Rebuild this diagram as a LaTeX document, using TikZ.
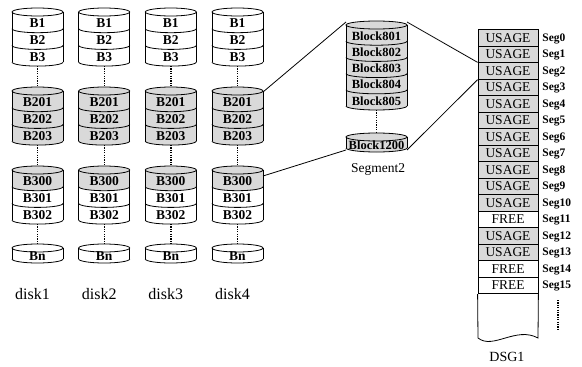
\documentclass[tikz,border=0pt]{standalone}
\usepackage{fontspec}
\setmainfont{Liberation Serif}
\tikzset{
  shade/.style={fill=gray!30},
  plain/.style={fill=white},
  cyltext/.style={font=\fontsize{13.5}{15}\selectfont\bfseries, inner sep=0pt},
  segtext/.style={font=\fontsize{12.5}{14}\selectfont\bfseries, inner sep=0pt},
  dots/.style={line width=1.4pt, dash pattern=on 1.2pt off 1.2pt},
  caption/.style={font=\fontsize{16}{18}\selectfont, inner sep=0pt},
  rowbox/.style={draw, minimum width=60pt, minimum height=16.5pt, inner sep=0pt, font=\fontsize{13.5}{14}\selectfont},
  seglab/.style={anchor=west, inner sep=0pt, font=\fontsize{11.5}{13}\selectfont\bfseries},
  link/.style={line width=0.8pt}
}
% #1 cx, #2 y0, #3 rx, #4 h, #5 name, #6 rows, #7 text style, #8 number of rows
\newcommand\cylstack[8]{%
  \foreach [count=\i from 0] \lab/\col in {#6} {
    \pgfmathsetmacro\ya{#2+\i*#4}
    \pgfmathsetmacro\yb{#2+(\i+1)*#4}
    \ifnum\i=0
      \fill[\col] (#1,#2) ellipse[x radius=#3pt, y radius=4pt];
    \fi
    \fill[\col] (#1-#3,\ya) -- (#1-#3,\yb) arc[start angle=180,end angle=360,x radius=#3pt,y radius=4pt]
       -- (#1+#3,\ya) arc[start angle=360,end angle=180,x radius=#3pt,y radius=4pt] -- cycle;
    \node[#7] (#5-\i) at (#1,\ya+#4/2+3) {\lab};
  }
  \draw (#1,#2) ellipse[x radius=#3pt, y radius=4pt];
  \draw (#1-#3,#2) -- (#1-#3,#2+#8*#4);
  \draw (#1+#3,#2) -- (#1+#3,#2+#8*#4);
  \foreach \k in {1,...,#8} {
    \draw (#1-#3,#2+\k*#4) arc[start angle=180,end angle=360,x radius=#3pt,y radius=4pt];
  }
}
\begin{document}
\begin{tikzpicture}[x=1pt,y=-1pt,line width=0.8pt]
\useasboundingbox (0,0) rectangle (582,367);
% disks
\foreach \cx [count=\d] in {37.5,104.2,170.8,237.5} {
  \cylstack{\cx}{12}{25.5}{16.7}{a\d}{B1/plain,B2/plain,B3/plain}{cyltext}{3}
  \cylstack{\cx}{91}{25.5}{16.7}{b\d}{B201/shade,B202/shade,B203/shade}{cyltext}{3}
  \cylstack{\cx}{170}{25.5}{16.7}{c\d}{B300/shade,B301/plain,B302/plain}{cyltext}{3}
  \cylstack{\cx}{248}{25.5}{11}{n\d}{Bn/plain}{cyltext}{1}
  \draw[dots] (\cx,66) -- (\cx,87);
  \draw[dots] (\cx,145) -- (\cx,166);
  \draw[dots] (\cx,224) -- (\cx,244);
  \node[caption] (disk\d) at (\cx-5,294) {disk\d};
}
% segment 2
\cylstack{376.5}{25}{30.5}{16.2}{s}{Block801/shade,Block802/shade,Block803/shade,Block804/shade,Block805/shade}{segtext}{5}
\cylstack{376.5}{137}{30.5}{11}{t}{Block1200/shade}{segtext}{1}
\draw[dots] (376.5,110) -- (376.5,133);
\node[font=\fontsize{13.5}{15}\selectfont, inner sep=0pt] (seg2) at (378,169) {Segment2};
% DSG1
\foreach \st/\fc [count=\i from 0] in {USAGE/gray!30,USAGE/gray!30,USAGE/gray!30,USAGE/gray!30,USAGE/gray!30,USAGE/gray!30,USAGE/gray!30,USAGE/gray!30,USAGE/gray!30,USAGE/gray!30,USAGE/gray!30,FREE/white,USAGE/gray!30,USAGE/gray!30,FREE/white,FREE/white} {
  \node[rowbox, fill=\fc] (r\i) at (508,38+16.5*\i) {\st};
  \node[seglab] (l\i) at (542,38.5+16.5*\i) {Seg\i};
}
\coordinate (wl) at (478,338);
\coordinate (wr) at (538,338);
\draw (r15.south west) -- (wl) .. controls (493,350) and (516,326) .. (wr) -- (r15.south east);
\coordinate (dt) at (558,300);
\coordinate (db) at (558,330);
\draw[dots] (dt) -- (db);
\node[font=\fontsize{14}{16}\selectfont, inner sep=0pt] (dsg) at (507,357) {DSG1};
% connectors
\coordinate (p1) at (263,92);
\coordinate (p2) at (346,22);
\coordinate (p3) at (263,176);
\coordinate (p4) at (346,150);
\coordinate (p5) at (407,22);
\coordinate (p6) at (407,150);
\draw[link] (p1) -- (p2);
\draw[link] (p3) -- (p4);
\draw[link] (p5) -- (r2.north west);
\draw[link] (p6) -- (r2.south west);
\end{tikzpicture}
\end{document}
